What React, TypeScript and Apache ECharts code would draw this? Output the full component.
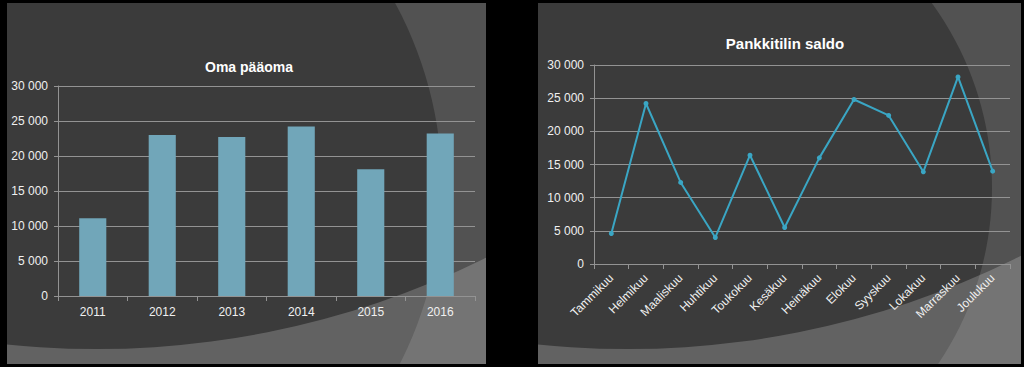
import React, { useEffect, useRef } from "react";
import * as echarts from "echarts";

const barTitle = "Oma pääoma";
const years = ["2011", "2012", "2013", "2014", "2015", "2016"];
const equity = [11100, 23000, 22700, 24200, 18100, 23200];

const lineTitle = "Pankkitilin saldo";
const months = [
  "Tammikuu", "Helmikuu", "Maaliskuu", "Huhtikuu", "Toukokuu", "Kesäkuu",
  "Heinäkuu", "Elokuu", "Syyskuu", "Lokakuu", "Marraskuu", "Joulukuu",
];
const balance = [4600, 24200, 12300, 4000, 16400, 5500, 16000, 24800, 22400, 13900, 28200, 14000];

const yMin = 0;
const yMax = 30000;
const yStep = 5000;

const FONT = "Liberation Sans, Arial, sans-serif";
const fmt = (v: number) => {
  const s = String(v);
  return s.length > 3 ? s.slice(0, s.length - 3) + " " + s.slice(-3) : s;
};

function bgGraphics(c1: { cx: number; cy: number; r: number }) {
  return [
    { type: "circle", z: -100, silent: true, shape: c1, style: { fill: "#3b3b3b" } },
    {
      type: "ring", z: -90, silent: true,
      shape: { cx: 90, cy: -528, r: 3000, r0: 874 },
      style: { fill: "rgba(255,255,255,0.2)" },
    },
  ];
}

function axisCommon() {
  return {
    axisLine: { show: true, lineStyle: { color: "#939393", width: 1 } },
    axisTick: { show: true, length: 4, lineStyle: { color: "#939393" } },
    axisLabel: { color: "#f0f0f0", fontSize: 12, fontFamily: FONT, margin: 10 },
  };
}

function Panel(props: { left: number; width: number; option: any }) {
  const ref = useRef<HTMLDivElement>(null);
  useEffect(() => {
    const chart = echarts.init(ref.current!, undefined, { renderer: "svg" });
    chart.setOption(props.option);
    return () => chart.dispose();
  }, []);
  return (
    <div
      ref={ref}
      style={{ position: "absolute", left: props.left, top: 3, width: props.width, height: 361 }}
    />
  );
}

const barOption = {
  animation: false,
  backgroundColor: "#525252",
  graphic: bgGraphics({ cx: 47, cy: 185, r: 388 }),
  title: {
    text: barTitle,
    left: 237,
    top: 52,
    textAlign: "center",
    textStyle: { color: "#ffffff", fontSize: 14, fontWeight: "bold", fontFamily: FONT },
  },
  grid: { left: 51, right: 11, top: 83, bottom: 68 },
  xAxis: {
    type: "category",
    data: years,
    ...axisCommon(),
    axisTick: { show: true, length: 5, lineStyle: { color: "#939393" } },
    axisLabel: { color: "#f0f0f0", fontSize: 12, fontFamily: FONT, margin: 10 },
  },
  yAxis: {
    type: "value",
    min: yMin,
    max: yMax,
    interval: yStep,
    ...axisCommon(),
    axisLabel: { color: "#f0f0f0", fontSize: 12, fontFamily: FONT, margin: 10, formatter: fmt },
    splitLine: { show: true, lineStyle: { color: "#939393", width: 1 } },
  },
  series: [
    {
      type: "bar",
      data: equity,
      barWidth: "39%",
      itemStyle: { color: "#71a6b9" },
    },
  ],
};

const lineOption = {
  animation: false,
  backgroundColor: "#525252",
  graphic: bgGraphics({ cx: 140, cy: 185, r: 314 }),
  title: {
    text: lineTitle,
    left: 242,
    top: 28,
    textAlign: "center",
    textStyle: { color: "#ffffff", fontSize: 15, fontWeight: "bold", fontFamily: FONT },
  },
  grid: { left: 56, right: 11, top: 62, bottom: 100 },
  xAxis: {
    type: "category",
    data: months,
    ...axisCommon(),
    axisTick: { show: true, length: 5, lineStyle: { color: "#939393" } },
    axisLabel: { color: "#f0f0f0", fontSize: 12, fontFamily: FONT, margin: 12, rotate: 45, interval: 0 },
  },
  yAxis: {
    type: "value",
    min: yMin,
    max: yMax,
    interval: yStep,
    ...axisCommon(),
    axisLabel: { color: "#f0f0f0", fontSize: 12, fontFamily: FONT, margin: 10, formatter: fmt },
    splitLine: { show: true, lineStyle: { color: "#939393", width: 1 } },
  },
  series: [
    {
      type: "line",
      data: balance,
      symbol: "circle",
      symbolSize: 5,
      lineStyle: { color: "#3aa6c4", width: 2 },
      itemStyle: { color: "#3aa6c4" },
    },
  ],
};

export default function App() {
  return (
    <div style={{ position: "fixed", left: 0, top: 0, width: 1024, height: 367, background: "#000" }}>
      <Panel left={7} width={479} option={barOption} />
      <Panel left={538} width={483} option={lineOption} />
    </div>
  );
}
